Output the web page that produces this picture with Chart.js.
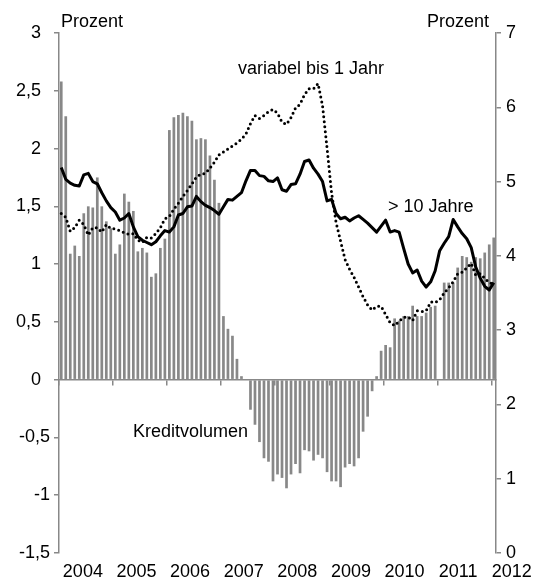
<!DOCTYPE html>
<html>
<head>
<meta charset="utf-8">
<script src="https://cdn.jsdelivr.net/npm/chart.js@4.4.0/dist/chart.umd.min.js"></script>
<style>
  html, body { margin: 0; padding: 0; background: #fff; }
  #wrap { width: 537px; height: 583px; position: relative; }
</style>
</head>
<body>
<div id="wrap"><canvas id="myChart"></canvas></div>
<script>
// Jahreslabels der x-Achse
const yearLabels = ['2004', '2005', '2006', '2007', '2008', '2009', '2010', '2011', '2012'];

// Kreditvolumen, monatlich Jan 2004 - Jan 2012 (linke Achse)
const kreditvolumen = [
  2.58, 2.28, 1.09, 1.16, 1.07, 1.44, 1.50, 1.49, 1.75, 1.50, 1.37, 1.31,
  1.09, 1.17, 1.61, 1.54, 1.46, 1.11, 1.14, 1.10, 0.89, 0.92, 1.14, 1.22,
  2.16, 2.27, 2.29, 2.31, 2.28, 2.24, 2.08, 2.09, 2.08, 1.94, 1.73, 1.53,
  0.55, 0.44, 0.38, 0.18, 0.03, 0.00, -0.26, -0.39, -0.54, -0.68, -0.71, -0.88,
  -0.82, -0.85, -0.94, -0.82, -0.73, -0.81, -0.61, -0.62, -0.70, -0.65, -0.68, -0.80,
  -0.88, -0.88, -0.93, -0.76, -0.73, -0.75, -0.68, -0.45, -0.32, -0.10, 0.03, 0.25,
  0.30, 0.28, 0.53, 0.51, 0.55, 0.55, 0.64, 0.55, 0.55, 0.58, 0.63, 0.64,
  null, 0.84, 0.84, 0.84, 0.97, 1.07, 1.06, 1.02, 1.06, 1.05, 1.10, 1.17,
  1.23
];

// Zinssatz variabel bis 1 Jahr (rechte Achse)
const zinsVariabel = [
  4.57, 4.52, 4.33, 4.38, 4.48, 4.42, 4.28, 4.38, 4.38, 4.32, 4.42, 4.37,
  4.36, 4.34, 4.31, 4.29, 4.30, 4.21, 4.18, 4.25, 4.24, 4.30, 4.38, 4.50,
  4.53, 4.63, 4.71, 4.80, 4.88, 4.97, 5.06, 5.10, 5.11, 5.18, 5.26, 5.36,
  5.40, 5.44, 5.48, 5.52, 5.57, 5.64, 5.78, 5.89, 5.85, 5.89, 5.94, 5.97,
  5.92, 5.80, 5.77, 5.86, 5.99, 6.04, 6.17, 6.25, 6.25, 6.32, 6.02, 5.45,
  4.85, 4.45, 4.20, 3.95, 3.82, 3.71, 3.58, 3.45, 3.34, 3.27, 3.32, 3.32,
  3.21, 3.10, 3.06, 3.12, 3.17, 3.18, 3.13, 3.26, 3.25, 3.26, 3.38, 3.37,
  3.41, 3.50, 3.57, 3.65, 3.76, 3.78, 3.84, 3.90, 3.74, 3.76, 3.70, 3.64,
  3.62
];

// Zinssatz > 10 Jahre (rechte Achse)
const zinsLang = [
  5.19, 5.03, 4.98, 4.95, 4.94, 5.09, 5.11, 5.00, 4.97, 4.85, 4.74, 4.65,
  4.59, 4.48, 4.51, 4.57, 4.39, 4.26, 4.21, 4.18, 4.15, 4.19, 4.27, 4.34,
  4.32, 4.39, 4.55, 4.57, 4.66, 4.67, 4.80, 4.73, 4.68, 4.65, 4.61, 4.56,
  4.66, 4.76, 4.75, 4.80, 4.85, 5.01, 5.15, 5.15, 5.08, 5.07, 5.01, 5.00,
  5.05, 4.89, 4.87, 4.96, 4.97, 5.10, 5.27, 5.29, 5.18, 5.10, 5.00, 4.74,
  4.76, 4.57, 4.50, 4.52, 4.47, 4.51, 4.54, 4.49, 4.44, 4.38, 4.32, 4.40,
  4.48, 4.32, 4.34, 4.32, 4.10, 3.89, 3.77, 3.81, 3.66, 3.58, 3.65, 3.80,
  4.07, 4.17, 4.26, 4.49, 4.39, 4.30, 4.23, 4.11, 3.85, 3.70, 3.59, 3.54,
  3.64
];

const gray = '#888888';
const fontFamily = "'Liberation Sans', Arial, sans-serif";

Chart.defaults.font.family = fontFamily;
Chart.defaults.font.size = 18;
Chart.defaults.color = '#000';

// Monat i liegt in der Mitte des Intervalls [i, i+1]
const toPoints = (values) => values.map((v, i) => ({ x: i + 0.5, y: v }));
const germanNumber = (v) => String(v).replace('.', ',');

const notes = [
  { text: 'Prozent', x: 61, y: 27, align: 'left' },
  { text: 'Prozent', x: 489, y: 27, align: 'right' },
  { text: 'variabel bis 1 Jahr', x: 238, y: 74, align: 'left' },
  { text: '> 10 Jahre', x: 388, y: 212, align: 'left' },
  { text: 'Kreditvolumen', x: 133, y: 437, align: 'left' }
];

const notesPlugin = {
  id: 'notes',
  afterDraw: (chart) => {
    const ctx = chart.ctx;
    ctx.save();
    ctx.fillStyle = '#000';
    ctx.font = '18px ' + fontFamily;
    ctx.textBaseline = 'alphabetic';
    notes.forEach(n => {
      ctx.textAlign = n.align;
      ctx.fillText(n.text, n.x, n.y);
    });
    ctx.restore();
  }
};

const axisGrid = { drawOnChartArea: false, color: gray, tickLength: 5, lineWidth: 1.5, offset: false };
const axisBorder = { color: gray, width: 1.5 };

new Chart(document.getElementById('myChart'), {
  type: 'bar',
  data: {
    datasets: [{
      type: 'line',
      label: '> 10 Jahre',
      data: toPoints(zinsLang),
      xAxisID: 'x',
      yAxisID: 'y1',
      borderColor: '#000',
      borderWidth: 3,
      borderJoinStyle: 'round',
      pointRadius: 0,
      tension: 0,
      fill: false,
      order: 1
    }, {
      type: 'line',
      label: 'variabel bis 1 Jahr',
      data: toPoints(zinsVariabel),
      xAxisID: 'x',
      yAxisID: 'y1',
      borderColor: '#000',
      borderWidth: 3,
      borderDash: [0, 5],
      borderCapStyle: 'round',
      pointRadius: 0,
      tension: 0,
      fill: false,
      order: 2
    }, {
      type: 'bar',
      label: 'Kreditvolumen',
      data: toPoints(kreditvolumen),
      xAxisID: 'x',
      yAxisID: 'y',
      backgroundColor: gray,
      barPercentage: 0.6,
      categoryPercentage: 1,
      order: 3
    }]
  },
  options: {
    responsive: true,
    maintainAspectRatio: false,
    animation: false,
    layout: { padding: { top: 33, left: 0, right: 0, bottom: 0 } },
    plugins: {
      legend: { display: false },
      tooltip: { enabled: false }
    },
    scales: {
      x: {
        type: 'linear',
        min: 0,
        max: 97,
        offset: false,
        position: { y: 0 },
        grid: axisGrid,
        border: axisBorder,
        afterBuildTicks: (s) => { s.ticks = yearLabels.map((_, k) => ({ value: 12 * k })); },
        ticks: { autoSkip: false, maxRotation: 0, callback: () => '' }
      },
      xYears: {
        type: 'linear',
        axis: 'x',
        position: 'bottom',
        min: 0,
        max: 97,
        offset: false,
        grid: { display: false, drawTicks: false, tickLength: 0, offset: false },
        border: { display: false },
        afterBuildTicks: (s) => { s.ticks = yearLabels.map((_, k) => ({ value: 5.3 + 11.9 * k })); },
        ticks: { autoSkip: false, maxRotation: 0, padding: 8, callback: (v, i) => yearLabels[i] },
        afterFit: (s) => { s.height = 30; s.paddingLeft = 0; s.paddingRight = 0; }
      },
      y: {
        position: 'left',
        min: -1.5,
        max: 3,
        grid: axisGrid,
        border: axisBorder,
        ticks: {
          stepSize: 0.5,
          padding: 4,
          callback: (v) => germanNumber(v) + (v >= 0 ? '\u2002' : '')
        },
        afterFit: (s) => { s.width = 59; }
      },
      y1: {
        position: 'right',
        min: 0,
        max: 7,
        grid: axisGrid,
        border: axisBorder,
        ticks: { stepSize: 1, padding: 5 },
        afterFit: (s) => { s.width = 41; }
      }
    }
  },
  plugins: [notesPlugin]
});
</script>
</body>
</html>
